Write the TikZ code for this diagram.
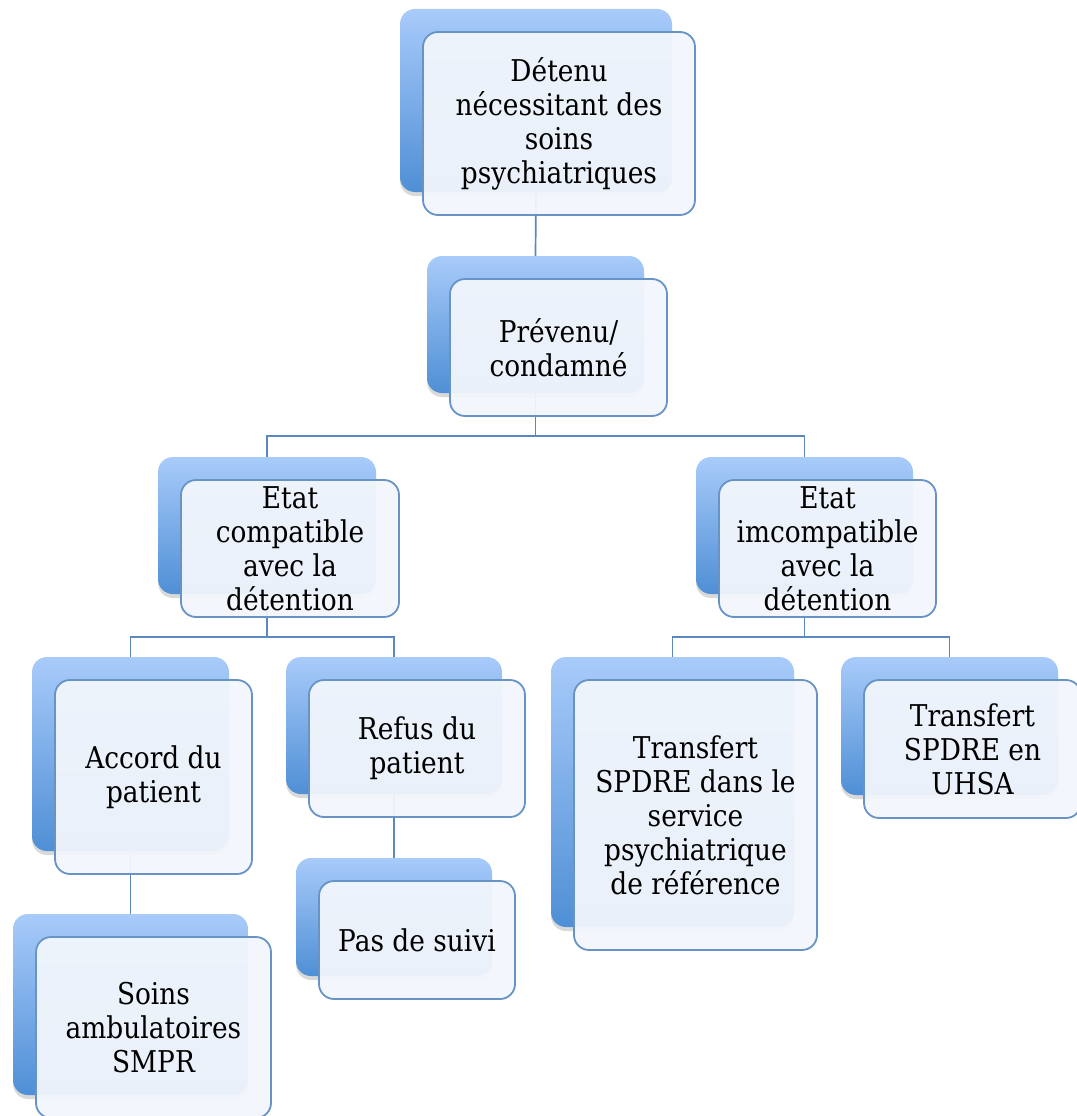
\documentclass[tikz,border=0pt]{standalone}
\usepackage{fontspec}
\setmainfont{DejaVu Serif}[FakeStretch=0.88]
\usetikzlibrary{shadows}

\definecolor{boxtop}{HTML}{A8CBFA}
\definecolor{boxbot}{HTML}{4F8FD5}
\definecolor{edgeblue}{HTML}{6893C6}
\definecolor{linkblue}{HTML}{5B86BE}
\definecolor{paleblue}{HTML}{F2F6FC}

\begin{document}
\begin{tikzpicture}[x=1pt,y=-1pt,
  back node/.style={rectangle,rounded corners=15pt,inner sep=0pt,top color=boxtop,bottom color=boxbot,
    drop shadow={opacity=0.3,shadow xshift=0pt,shadow yshift=-4pt}},
  front node/.style={rectangle,rounded corners=15pt,inner sep=0pt,draw=edgeblue,line width=1.8pt,
    fill=paleblue,fill opacity=0.95,text opacity=1,align=center,font=\fontsize{30}{34}\selectfont},
  link/.style={draw=linkblue,line width=1.7pt}]

  \useasboundingbox (0,0) rectangle (1076,1116);

  % back boxes
  \node[back node,minimum width=272pt,minimum height=183pt] (b1) at (536,100.5) {};
  \node[back node,minimum width=217pt,minimum height=137pt] (b2) at (535.5,324.5) {};
  \node[back node,minimum width=218pt,minimum height=137pt] (b3) at (267,525.5) {};
  \node[back node,minimum width=217pt,minimum height=137pt] (b4) at (804.5,525.5) {};
  \node[back node,minimum width=197pt,minimum height=194pt] (b5) at (130.5,754) {};
  \node[back node,minimum width=216pt,minimum height=137pt] (b6) at (394,725.5) {};
  \node[back node,minimum width=243pt,minimum height=270pt] (b7) at (672.5,792) {};
  \node[back node,minimum width=217pt,minimum height=138pt] (b8) at (949.5,726) {};
  \node[back node,minimum width=235pt,minimum height=181pt] (b9) at (130.5,1004.5) {};
  \node[back node,minimum width=196pt,minimum height=118pt] (b10) at (394,917) {};

  % links
  \draw[link] (b1.south) -- (b2.north);
  \draw[link] (b2.south) -- ++(0,43) -| (b3.north);
  \draw[link] (b2.south) -- ++(0,43) -| (b4.north);
  \draw[link] (b3.south) -- ++(0,43) -| (b5.north);
  \draw[link] (b3.south) -- ++(0,43) -| (b6.north);
  \draw[link] (b4.south) -- ++(0,43) -| (b7.north);
  \draw[link] (b4.south) -- ++(0,43) -| (b8.north);
  \draw[link] (b5.south) -- (b9.north);
  \draw[link] (b6.south) -- (b10.north);

  % front boxes
  \node[front node,minimum width=272pt,minimum height=183pt] (f1) at (559,123.5) {Détenu\\nécessitant des\\soins\\psychiatriques};
  \node[front node,minimum width=217pt,minimum height=137pt] (f2) at (558.5,347.5) {Prévenu/\\condamné};
  \node[front node,minimum width=218pt,minimum height=137pt] (f3) at (290,548.5) {Etat\\compatible\\avec la\\détention};
  \node[front node,minimum width=217pt,minimum height=137pt] (f4) at (827.5,548.5) {Etat\\imcompatible\\avec la\\détention};
  \node[front node,minimum width=197pt,minimum height=194pt] (f5) at (153.5,777) {Accord du\\patient};
  \node[front node,minimum width=216pt,minimum height=137pt] (f6) at (417,748.5) {Refus du\\patient};
  \node[front node,minimum width=243pt,minimum height=270pt] (f7) at (695.5,815) {Transfert\\SPDRE dans le\\service\\psychiatrique\\de référence};
  \node[front node,minimum width=217pt,minimum height=138pt] (f8) at (972.5,749) {Transfert\\SPDRE en\\UHSA};
  \node[front node,minimum width=235pt,minimum height=181pt] (f9) at (153.5,1027.5) {Soins\\ambulatoires\\SMPR};
  \node[front node,minimum width=196pt,minimum height=118pt] (f10) at (417,940) {Pas de suivi};
\end{tikzpicture}
\end{document}
